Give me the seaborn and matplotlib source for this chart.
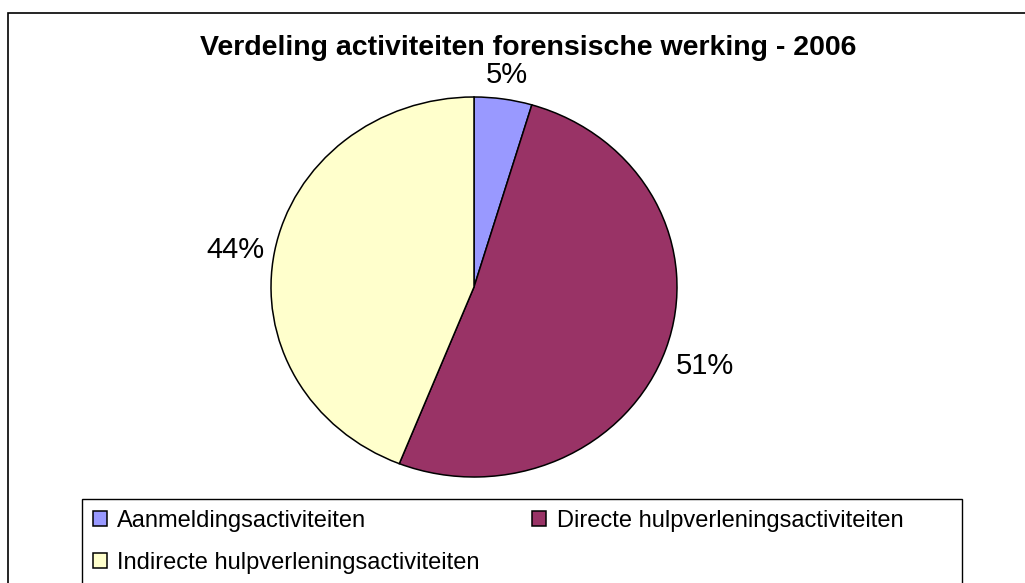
import matplotlib
matplotlib.use("Agg")
import matplotlib.pyplot as plt
import seaborn as sns
from matplotlib.patches import Rectangle

categories = ["Aanmeldingsactiviteiten",
              "Directe hulpverleningsactiviteiten",
              "Indirecte hulpverleningsactiviteiten"]
shares = [4.6, 51.4, 44.0]
colors_hex = ["#9999FF", "#993366", "#FFFFCC"]
title_text = "Verdeling activiteiten forensische werking - 2006"

sns.set_theme(style="white")
plt.rcParams['font.family'] = ['Liberation Sans', 'DejaVu Sans']
plt.rcParams['text.color'] = 'black'
palette = sns.color_palette(colors_hex)

W, H = 1025, 583
fig = plt.figure(figsize=(W / 100, H / 100), dpi=100)
fig.patch.set_facecolor("white")


def fx(px):
    return px / W


def fy(py):
    return 1 - py / H


# outer chart border
fig.add_artist(Rectangle((fx(8), fy(640)), fx(1100) - fx(8), fy(13) - fy(640),
                         transform=fig.transFigure, fill=False,
                         edgecolor="black", lw=1.2))

# pie axes (slightly elliptical, like the reference)
ax = fig.add_axes([fx(271), fy(477), fx(677) - fx(271), fy(97) - fy(477)])
pct_r = 1.13
wedges, texts, autotexts = ax.pie(
    shares, colors=palette, startangle=90, counterclock=False,
    wedgeprops=dict(edgecolor="black", linewidth=1.1),
    autopct=lambda p: f"{p:.0f}%", pctdistance=pct_r,
    textprops=dict(fontsize=21, color="black"))
# side labels anchored at their inner edge, like Excel's outside-end labels
for t in autotexts:
    x, y = t.get_position()
    if abs(x) > 0.5:
        s = 1.05 / pct_r
        t.set_position((x * s, y * s))
        t.set_ha("left" if x > 0 else "right")
        if y < 0:
            t.set_va("top")
ax.set_xlim(-1, 1)
ax.set_ylim(-1, 1)
ax.set_aspect("auto")
ax.axis("off")

fig.text(fx(528), fy(48), title_text, ha="center", va="center",
         fontsize=20.5, fontweight="bold", color="black")

# legend box
fig.add_artist(Rectangle((fx(82), fy(640)), fx(962) - fx(82), fy(499) - fy(640),
                         transform=fig.transFigure, fill=False,
                         edgecolor="black", lw=1.0))

order = [0, 2, 1]
leg = fig.legend([wedges[i] for i in order], [categories[i] for i in order],
                 loc="upper left", bbox_to_anchor=(fx(82), fy(499)), ncol=2,
                 frameon=False, fontsize=17, handlelength=0.6, handleheight=0.6,
                 handletextpad=0.45, columnspacing=2.2, borderpad=0.45,
                 labelspacing=0.85, borderaxespad=0)
for t in leg.get_texts():
    t.set_color("black")

fig.savefig("out.png", dpi=100, facecolor="white")
